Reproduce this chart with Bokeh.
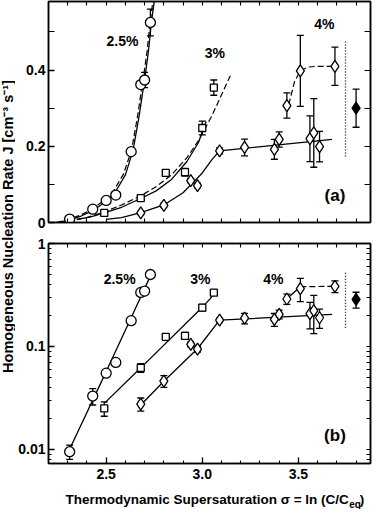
import math
from bokeh.plotting import figure
from bokeh.layouts import row, column
from bokeh.models import (ColumnDataSource, Whisker, TeeHead, LinearAxis, LogAxis,
                          FixedTicker, Label, Range1d,
                          CustomJSTickFormatter, PrintfTickFormatter)
from bokeh.embed import file_html
from bokeh.resources import INLINE
from bokeh.core.properties import value

FONT = "Liberation Sans"

# ---------------- data ----------------
# 2.5 % series (circles)
x_25 = [2.31, 2.43, 2.50, 2.55, 2.63, 2.68, 2.70, 2.73]
j_25_lin = [0.009, 0.035, 0.058, 0.072, 0.186, 0.362, 0.374, 0.525]
j_25_log = [0.0095, 0.033, 0.055, 0.070, 0.178, 0.335, 0.345, 0.50]
e_25 = [0.0015, 0.006, 0.003, 0.002, 0.005, 0.008, 0.020, 0.035]

# 3 % series (squares)
x_3 = [2.49, 2.68, 2.81, 2.91, 3.00, 3.06]
j_3_lin = [0.025, 0.064, 0.130, 0.132, 0.248, 0.354]
j_3_log = [0.025, 0.062, 0.124, 0.127, 0.238, 0.333]
e_3 = [0.004, 0.006, 0.005, 0.010, 0.018, 0.020]

# 4 % series (diamonds)
x_4 = [2.68, 2.80, 2.94, 2.975, 3.09, 3.22, 3.375, 3.40, 3.44, 3.51, 3.56, 3.58, 3.61, 3.69]
j_4_lin = [0.025, 0.045, 0.110, 0.097, 0.188, 0.197, 0.192, 0.218, 0.307, 0.398, 0.220, 0.235, 0.199, 0.410]
j_4_log = [0.0276, 0.046, 0.105, 0.094, 0.180, 0.188, 0.183, 0.205, 0.289, 0.365, 0.208, 0.223, 0.190, 0.384]
e_4 = [0.004, 0.006, 0.006, 0.006, 0.008, 0.022, 0.026, 0.020, 0.033, 0.093, 0.060, 0.090, 0.040, 0.050]

# reference point (filled diamond)
x_ref = [3.80]
j_ref_lin = [0.30]
j_ref_log = [0.286]
e_ref = [0.05]

# fitted curves, panel (a)
fit25_x = [2.25, 2.31, 2.37, 2.43, 2.50, 2.55, 2.60, 2.64, 2.67, 2.70, 2.72, 2.735, 2.75]
fit25_y = [0.0, 0.007, 0.017, 0.031, 0.056, 0.082, 0.125, 0.19, 0.275, 0.375, 0.45, 0.525, 0.58]
fit25d_x = [2.24, 2.30, 2.36, 2.42, 2.49, 2.54, 2.59, 2.632, 2.662, 2.692, 2.713, 2.728, 2.743]
fit25d_y = [0.0, 0.008, 0.018, 0.033, 0.058, 0.084, 0.127, 0.19, 0.275, 0.375, 0.45, 0.525, 0.58]
fit3_x = [2.35, 2.42, 2.49, 2.58, 2.68, 2.76, 2.84, 2.92, 2.98, 3.02]
fit3_y = [0.008, 0.015, 0.025, 0.040, 0.063, 0.083, 0.113, 0.16, 0.21, 0.265]
fit3d_x = [2.30, 2.40, 2.49, 2.58, 2.68, 2.76, 2.84, 2.92, 2.98, 3.05, 3.10, 3.15]
fit3d_y = [0.004, 0.013, 0.028, 0.046, 0.070, 0.094, 0.125, 0.17, 0.215, 0.28, 0.335, 0.39]
fit4_x = [2.50, 2.58, 2.68, 2.80, 2.90, 2.95, 3.00, 3.05, 3.09, 3.675]
fit4_y = [0.008, 0.013, 0.026, 0.046, 0.078, 0.104, 0.13, 0.165, 0.188, 0.218]
fit4d_x = [3.45, 3.48, 3.51, 3.55, 3.60, 3.69]
fit4d_y = [0.31, 0.37, 0.398, 0.408, 0.41, 0.41]

# lines, panel (b)
log25_x = [2.30, 2.50, 2.63, 2.74]
log25_y = [0.0092, 0.057, 0.19, 0.53]
log3_x = [2.49, 2.68, 3.00, 3.04, 3.07]
log3_y = [0.028, 0.062, 0.24, 0.29, 0.34]
log4_x = [2.68, 2.80, 2.975, 3.09, 3.675]
log4_y = [0.027, 0.046, 0.095, 0.18, 0.205]
log4s_x = [3.44, 3.51]
log4s_y = [0.29, 0.38]
log4d_x = [3.51, 3.69]
log4d_y = [0.38, 0.384]

# dotted separator
sep_x = [3.745, 3.745]
sep_lin = [0.173, 0.475]
sep_log = [0.152, 0.53]

# text labels
series_labels = ["2.5%", "3%", "4%"]
lab_x_a = [2.585, 3.065, 3.635]
lab_y_a = [0.477, 0.444, 0.521]
lab_x_b = [2.57, 2.99, 3.37]
lab_y_b = [0.448, 0.448, 0.448]
panel_a = (3.69, 0.07)
panel_b = (3.69, 0.0137)

X_TITLE = "Thermodynamic Supersaturation \u03c3 = ln (C/C"
X_TITLE_SUB = "eq"
Y_TITLE = "Homogeneous Nucleation Rate J [cm\u207b\u00b3 s\u207b\u00b9]"

# ticks
x_ticks_major = [2.5, 3.0, 3.5]
x_ticks_all = [2.3, 2.4, 2.5, 2.6, 2.7, 2.8, 2.9, 3.0, 3.1, 3.2, 3.3, 3.4, 3.5, 3.6, 3.7, 3.8]
x_ticks_minor = [2.3, 2.4, 2.6, 2.7, 2.8, 2.9, 3.1, 3.2, 3.3, 3.4, 3.6, 3.7, 3.8]
y_ticks_lin = [0, 0.2, 0.4]
y_minor_lin = [0.1, 0.3, 0.5]
y_all_lin = [0, 0.1, 0.2, 0.3, 0.4, 0.5]
y_ticks_log = [0.01, 0.1, 1]
y_minor_log = [0.008, 0.009, 0.02, 0.03, 0.04, 0.05, 0.06, 0.07, 0.08, 0.09,
               0.2, 0.3, 0.4, 0.5, 0.6, 0.7, 0.8, 0.9]
y_all_log = y_ticks_log + y_minor_log

X_RANGE = (2.2, 3.875)
PANEL_W = 357
BORDER_L = 31

# ---------------- helpers ----------------
def style_axis(ax):
    ax.axis_line_color = "black"
    ax.axis_line_width = 1.5
    ax.major_tick_in = 6
    ax.major_tick_out = 0
    ax.minor_tick_in = 3
    ax.minor_tick_out = 0
    ax.major_tick_line_width = 1.3
    ax.minor_tick_line_width = 1.1
    ax.major_label_text_font = FONT
    ax.major_label_text_font_style = "bold"
    ax.major_label_text_color = "black"
    ax.major_label_text_font_size = "14px"
    ax.major_label_standoff = 3


def tick_only_axis(kind, ticks, tick_len):
    ax = kind(ticker=FixedTicker(ticks=[], minor_ticks=ticks))
    style_axis(ax)
    ax.minor_tick_in = tick_len
    ax.major_label_standoff = 0
    return ax


def add_points(p, xs, ys, es, marker, size, fill="white"):
    src = ColumnDataSource(dict(x=xs, y=ys,
                                lo=[y - e for y, e in zip(ys, es)],
                                hi=[y + e for y, e in zip(ys, es)]))
    w = Whisker(source=src, base="x", lower="lo", upper="hi",
                line_color="black", line_width=1.3,
                upper_head=TeeHead(size=7, line_color="black", line_width=1.3),
                lower_head=TeeHead(size=7, line_color="black", line_width=1.3))
    p.add_layout(w)
    p.scatter("x", "y", source=src, marker=marker, size=size,
              fill_color=fill, line_color="black", line_width=1.3)


def add_text(p, xs, ys, texts, size):
    p.text(x=xs, y=ys, text=texts, text_font=value(FONT), text_font_style="bold",
           text_font_size=size, text_align="center", text_baseline="middle",
           text_color="black")


def make_panel(log, height, border_top, border_bottom, show_x_labels):
    kw = dict(width=PANEL_W, height=height, output_backend="svg", toolbar_location=None,
              x_range=Range1d(*X_RANGE), min_border_left=BORDER_L, min_border_right=2,
              min_border_top=border_top, min_border_bottom=border_bottom,
              background_fill_color="white", border_fill_color="white",
              outline_line_color="black", outline_line_width=1.5,
              x_axis_location=None, y_axis_location=None)
    if log:
        p = figure(y_axis_type="log", y_range=Range1d(0.0073, 1.0), **kw)
    else:
        p = figure(y_range=Range1d(0, 0.58), **kw)
    p.grid.visible = False

    if show_x_labels:
        bx = LinearAxis(ticker=FixedTicker(ticks=x_ticks_major, minor_ticks=x_ticks_minor),
                        formatter=PrintfTickFormatter(format="%.1f"))
        style_axis(bx)
        bx.major_label_standoff = 5
    else:
        bx = tick_only_axis(LinearAxis, x_ticks_all, 4)
    p.add_layout(bx, "below")

    if log:
        ly = LogAxis(ticker=FixedTicker(ticks=y_ticks_log, minor_ticks=y_minor_log))
    else:
        ly = LinearAxis(ticker=FixedTicker(ticks=y_ticks_lin, minor_ticks=y_minor_lin))
    ly.formatter = CustomJSTickFormatter(code="return String(tick);")
    style_axis(ly)
    if not log:
        ly.minor_tick_in = 6
    p.add_layout(ly, "left")

    p.add_layout(tick_only_axis(LinearAxis, x_ticks_all, 4), "above")
    if log:
        p.add_layout(tick_only_axis(LogAxis, y_all_log, 4), "right")
    else:
        p.add_layout(tick_only_axis(LinearAxis, y_all_lin, 6), "right")
    return p


def blank_figure(w, h):
    f = figure(width=w, height=h, output_backend="svg", toolbar_location=None,
               x_axis_location=None, y_axis_location=None, min_border=0,
               outline_line_color=None, x_range=Range1d(0, w), y_range=Range1d(0, h))
    f.grid.visible = False
    return f


# ---------------- panel (a) ----------------
pa = make_panel(False, 233, 1, 11, False)
pa.line(fit25_x, fit25_y, line_color="black", line_width=1.3)
pa.line(fit25d_x, fit25d_y, line_color="black", line_width=1.2, line_dash="6 3")
pa.line(fit3_x, fit3_y, line_color="black", line_width=1.3)
pa.line(fit3d_x, fit3d_y, line_color="black", line_width=1.2, line_dash="6 3")
pa.line(fit4_x, fit4_y, line_color="black", line_width=1.3)
pa.line(fit4d_x, fit4d_y, line_color="black", line_width=1.2, line_dash="6 3")
pa.line(sep_x, sep_lin, line_color="black", line_width=1.3, line_dash="1 2")
add_points(pa, x_25, j_25_lin, e_25, "circle", 10)
add_points(pa, x_3, j_3_lin, e_3, "square", 7)
add_points(pa, x_4, j_4_lin, e_4, "diamond", 12)
add_points(pa, x_ref, j_ref_lin, e_ref, "diamond", 12, fill="black")
add_text(pa, lab_x_a, lab_y_a, series_labels, "14px")
add_text(pa, [panel_a[0]], [panel_a[1]], ["(a)"], "17px")

# ---------------- panel (b) ----------------
pb = make_panel(True, 250, 10, 20, True)
pb.line(log25_x, log25_y, line_color="black", line_width=1.3)
pb.line(log3_x, log3_y, line_color="black", line_width=1.3)
pb.line(log4_x, log4_y, line_color="black", line_width=1.3)
pb.line(log4s_x, log4s_y, line_color="black", line_width=1.3)
pb.line(log4d_x, log4d_y, line_color="black", line_width=1.2, line_dash="6 3")
pb.line(sep_x, sep_log, line_color="black", line_width=1.3, line_dash="1 2")
add_points(pb, x_25, j_25_log, e_25, "circle", 10)
add_points(pb, x_3, j_3_log, e_3, "square", 7)
add_points(pb, x_4, j_4_log, e_4, "diamond", 12)
add_points(pb, x_ref, j_ref_log, e_ref, "diamond", 12, fill="black")
add_text(pb, lab_x_b, lab_y_b, series_labels, "14px")
add_text(pb, [panel_b[0]], [panel_b[1]], ["(b)"], "17px")

# ---------------- x title strip ----------------
xt = blank_figure(PANEL_W, 26)
X0 = 333
xt.add_layout(Label(x=X0, y=10.5, text=X_TITLE, text_align="right", text_baseline="middle",
                    text_font=FONT, text_font_style="bold", text_font_size="13.5px",
                    text_color="black"))
xt.add_layout(Label(x=X0 + 0.5, y=5.5, text=X_TITLE_SUB, text_align="left",
                    text_baseline="middle", text_font=FONT, text_font_style="bold",
                    text_font_size="10px", text_color="black"))
xt.add_layout(Label(x=X0 + 12, y=10.5, text=")", text_align="left", text_baseline="middle",
                    text_font=FONT, text_font_style="bold", text_font_size="13.5px",
                    text_color="black"))

# ---------------- y title strip ----------------
strip = blank_figure(15, 509)
strip.add_layout(Label(x=7.5, y=283, text=Y_TITLE,
                       angle=math.pi / 2, text_align="center", text_baseline="middle",
                       text_font=FONT, text_font_style="bold", text_font_size="14.5px",
                       text_color="black"))

layout = row(strip, column(pa, pb, xt, spacing=0), spacing=0)

open("out.html", "w").write(file_html(layout, INLINE))
